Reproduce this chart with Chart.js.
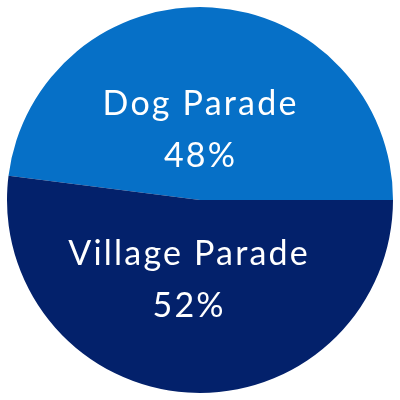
<!DOCTYPE html>
<html>
<head>
<meta charset="utf-8">
<script src="https://cdn.jsdelivr.net/npm/chart.js@4/dist/chart.umd.min.js"></script>
<style>
  html, body { margin: 0; padding: 0; background: #fff; }
  #wrap { width: 400px; height: 400px; }
</style>
</head>
<body>
<div id="wrap"><canvas id="parades"></canvas></div>
<script>
var labels = ["Dog Parade", "Village Parade"];
var shares = [48, 52];
var colors = ["#0670C7", "#03216B"];

// writes the name and percentage inside each slice
var sliceLabels = {
  id: 'sliceLabels',
  afterDatasetsDraw: function (chart, args, opts) {
    var ctx = chart.ctx;
    var meta = chart.getDatasetMeta(0);
    ctx.save();
    ctx.fillStyle = '#fff';
    ctx.textAlign = 'center';
    ctx.textBaseline = 'alphabetic';
    ctx.font = opts.weight + ' ' + opts.size + 'px ' + opts.family;
    ctx.letterSpacing = opts.spacing + 'px';
    meta.data.forEach(function (arc, i) {
      var p = arc.getProps(['x', 'y', 'startAngle', 'endAngle', 'outerRadius'], true);
      var mid = (p.startAngle + p.endAngle) / 2;
      var r = p.outerRadius * opts.radius[i];
      var cx = p.x + Math.cos(mid) * r + opts.shift[i] + opts.spacing / 2;
      var cy = p.y + Math.sin(mid) * r;
      ctx.fillText(labels[i], cx, cy - opts.size * 0.41);
      ctx.fillText(shares[i] + '%', cx, cy + opts.size * 1.13);
    });
    ctx.restore();
  }
};

var ctx = document.getElementById('parades').getContext('2d');
var chart = new Chart(ctx, {
  type: 'pie',
  data: {
    labels: labels,
    datasets: [{
      data: shares,
      backgroundColor: colors,
      borderWidth: 0
    }]
  },
  options: {
    responsive: true,
    maintainAspectRatio: false,
    animation: false,
    rotation: -82.8,
    layout: { padding: 7 },
    plugins: {
      legend: { display: false },
      tooltip: { enabled: false },
      sliceLabels: {
        size: 34, weight: 400, family: 'Lato, sans-serif', spacing: 2.2,
        radius: [0.37, 0.41], shift: [-5, -7]
      }
    }
  },
  plugins: [sliceLabels]
});
</script>
</body>
</html>
